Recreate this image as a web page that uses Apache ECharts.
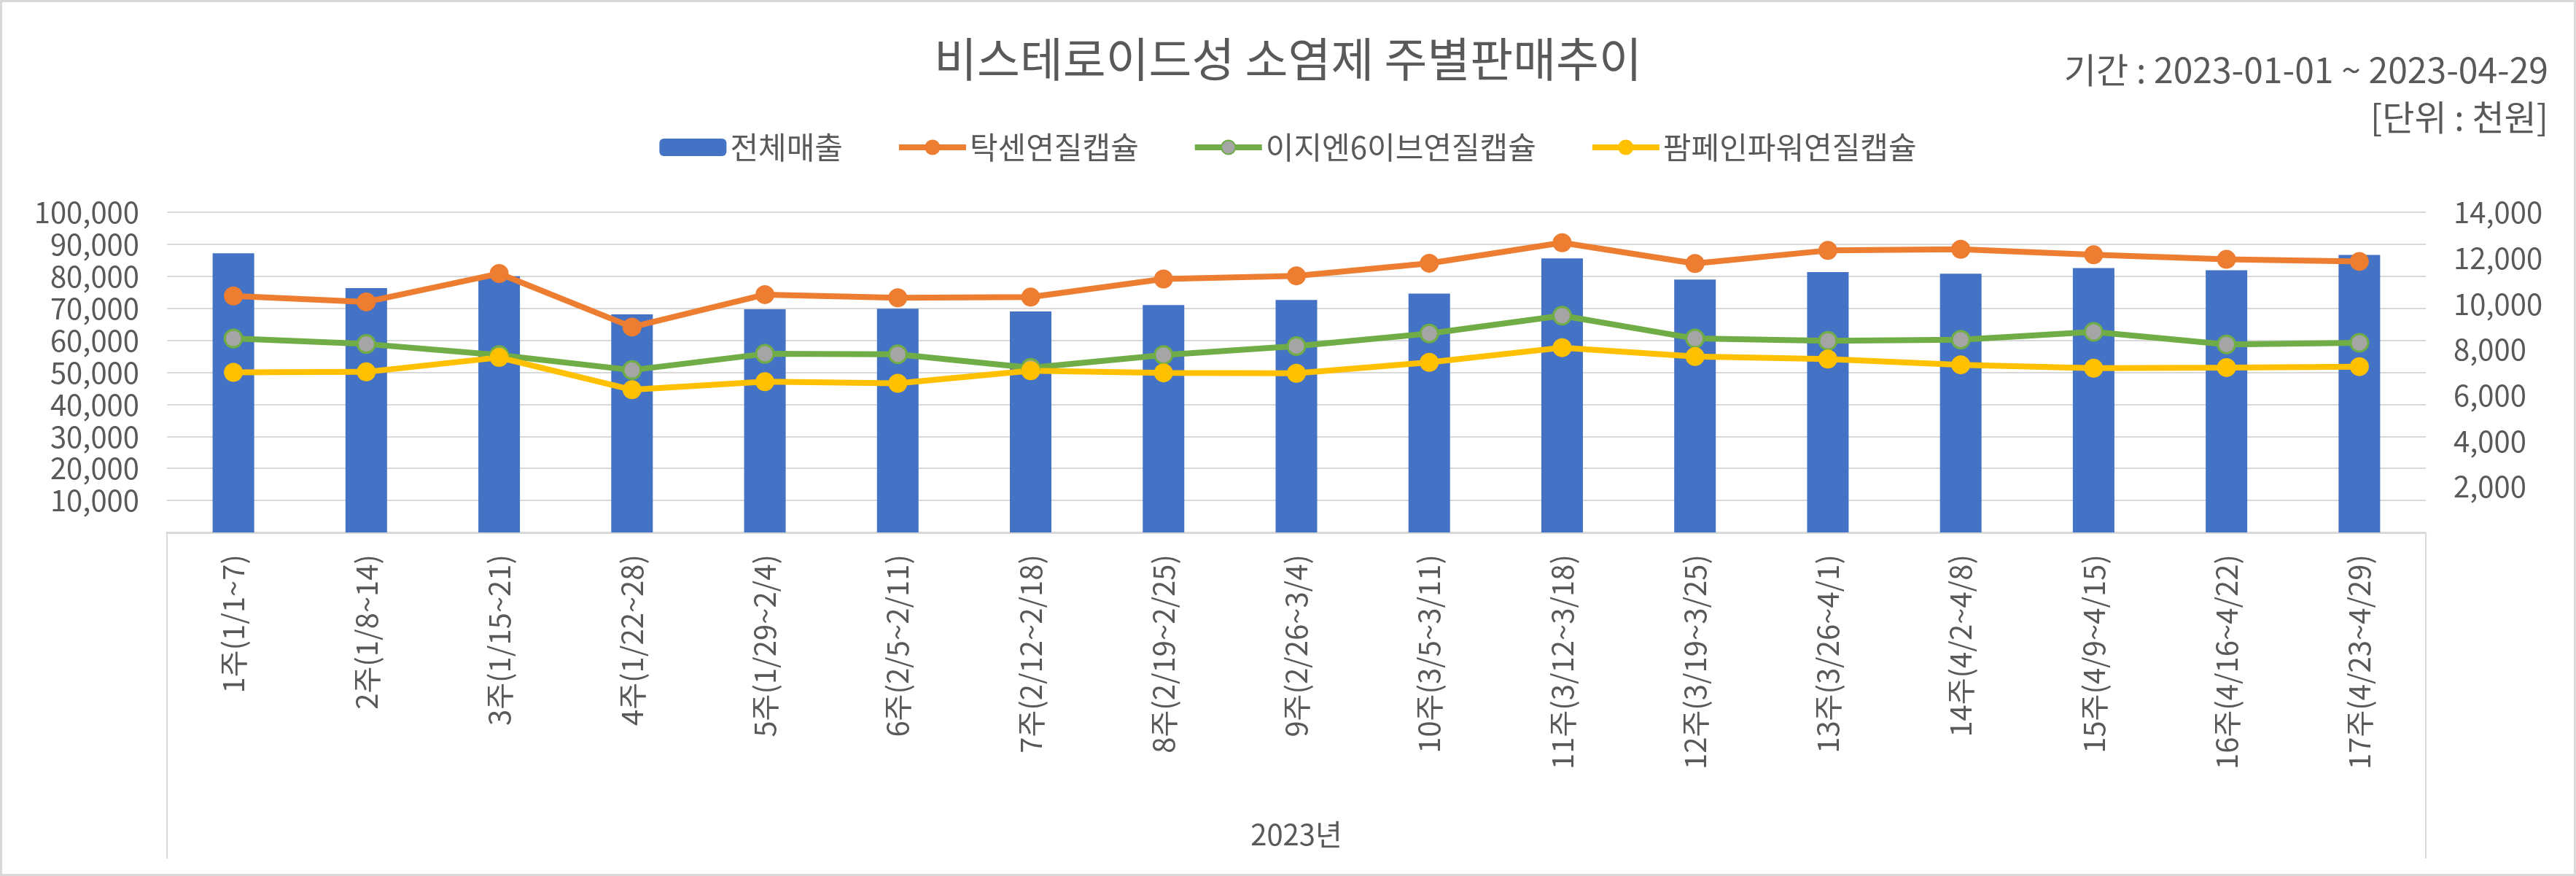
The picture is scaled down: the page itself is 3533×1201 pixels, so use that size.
<!DOCTYPE html>
<html>
<head>
<meta charset="utf-8">
<script src="https://cdn.jsdelivr.net/npm/echarts@6/dist/echarts.min.js"></script>
<style>
html,body{margin:0;padding:0;background:#fff;}
#chart{width:3533px;height:1201px;}
</style>
</head>
<body>
<div id="chart"></div>
<script>
const categories = ['1주(1/1~7)','2주(1/8~14)','3주(1/15~21)','4주(1/22~28)','5주(1/29~2/4)','6주(2/5~2/11)','7주(2/12~2/18)','8주(2/19~2/25)','9주(2/26~3/4)','10주(3/5~3/11)','11주(3/12~3/18)','12주(3/19~3/25)','13주(3/26~4/1)','14주(4/2~4/8)','15주(4/9~4/15)','16주(4/16~4/22)','17주(4/23~4/29)'];
const groupLabel = ['2023년'];
const totalSales = [87200,76300,80000,68100,69700,69900,69000,71000,72600,74600,85600,79000,81300,80800,82600,81900,86700];
const taxen = [10340,10080,11320,8980,10400,10260,10290,11080,11220,11770,12670,11760,12330,12380,12140,11940,11850];
const easyn6 = [8480,8240,7760,7100,7810,7790,7200,7760,8150,8700,9480,8480,8380,8430,8770,8220,8290];
const pampain = [7000,7020,7650,6240,6590,6520,7070,6980,6960,7440,8080,7690,7580,7330,7180,7210,7250];
const seriesNames = ['전체매출','탁센연질캡슐','이지엔6이브연질캡슐','팜페인파워연질캡슐'];
const titleText = '비스테로이드성 소염제 주별판매추이';
const periodText = '기간 : 2023-01-01 ~ 2023-04-29';
const unitText = '[단위 : 천원]';

const FONT = '"Noto Sans CJK KR", "Noto Sans", sans-serif';
const TXT = '#595959';
const GRID_C = '#D9D9D9';

const chart = echarts.init(document.getElementById('chart'), null, {renderer:'canvas'});
const fmt = v => v === 0 ? '' : v.toLocaleString('en-US');

chart.setOption({
  animation:false,
  textStyle:{fontFamily:FONT},
  graphic:[{type:'rect', shape:{x:1.5,y:1.5,width:3530,height:1198}, style:{fill:'none', stroke:GRID_C, lineWidth:3}, silent:true}],
  title:[
    {text:titleText, left:'center', top:49, padding:0, textStyle:{fontFamily:FONT, fontSize:64, fontWeight:'normal', color:TXT}},
    {text:periodText, right:38, top:72, padding:0, textStyle:{fontFamily:FONT, fontSize:48, fontWeight:'normal', color:TXT}},
    {text:unitText, right:38, top:137, padding:0, textStyle:{fontFamily:FONT, fontSize:48, fontWeight:'normal', color:TXT}}
  ],
  legend:{
    top:181, left:'center', padding:0, itemGap:73, itemWidth:92, itemHeight:24,
    lineStyle:{width:'inherit'},
    textStyle:{fontFamily:FONT, fontSize:42, color:TXT},
    data:seriesNames
  },
  grid:{left:229, right:206, top:291, bottom:471, containLabel:false},
  xAxis:[
    {type:'category', data:categories, position:'bottom',
     axisLine:{show:true, lineStyle:{color:GRID_C, width:3}},
     axisTick:{show:false},
     axisLabel:{rotate:90, margin:30, fontFamily:FONT, fontSize:40, color:TXT, interval:0}},
    {type:'category', data:groupLabel, position:'bottom', boundaryGap:true,
     axisLine:{show:false},
     axisTick:{show:true, inside:false, length:447, lineStyle:{color:GRID_C, width:2}},
     axisLabel:{margin:394, fontFamily:FONT, fontSize:40, color:TXT}}
  ],
  yAxis:[
    {type:'value', min:0, max:100000, interval:10000, position:'left',
     axisLine:{show:false}, axisTick:{show:false},
     splitLine:{show:true, lineStyle:{color:GRID_C, width:2}},
     axisLabel:{margin:38, fontFamily:FONT, fontSize:40, color:TXT, formatter:fmt}},
    {type:'value', min:0, max:14000, interval:2000, position:'right',
     axisLine:{show:false}, axisTick:{show:false},
     splitLine:{show:false},
     axisLabel:{margin:38, fontFamily:FONT, fontSize:40, color:TXT, formatter:fmt}}
  ],
  series:[
    {name:seriesNames[0], type:'bar', data:totalSales, barWidth:57, xAxisIndex:0, yAxisIndex:0,
     itemStyle:{color:'#4472C4'}},
    {name:seriesNames[1], type:'line', data:taxen, xAxisIndex:0, yAxisIndex:1,
     symbol:'circle', symbolSize:24, lineStyle:{color:'#ED7D31', width:8},
     itemStyle:{color:'#ED7D31', borderColor:'#ED7D31', borderWidth:2}},
    {name:seriesNames[2], type:'line', data:easyn6, xAxisIndex:0, yAxisIndex:1,
     symbol:'circle', symbolSize:24, lineStyle:{color:'#70AD47', width:8},
     itemStyle:{color:'#A5A5A5', borderColor:'#70AD47', borderWidth:3}},
    {name:seriesNames[3], type:'line', data:pampain, xAxisIndex:0, yAxisIndex:1,
     symbol:'circle', symbolSize:24, lineStyle:{color:'#FFC000', width:8},
     itemStyle:{color:'#FFC000', borderColor:'#FFC000', borderWidth:2}}
  ]
});
</script>
</body>
</html>
